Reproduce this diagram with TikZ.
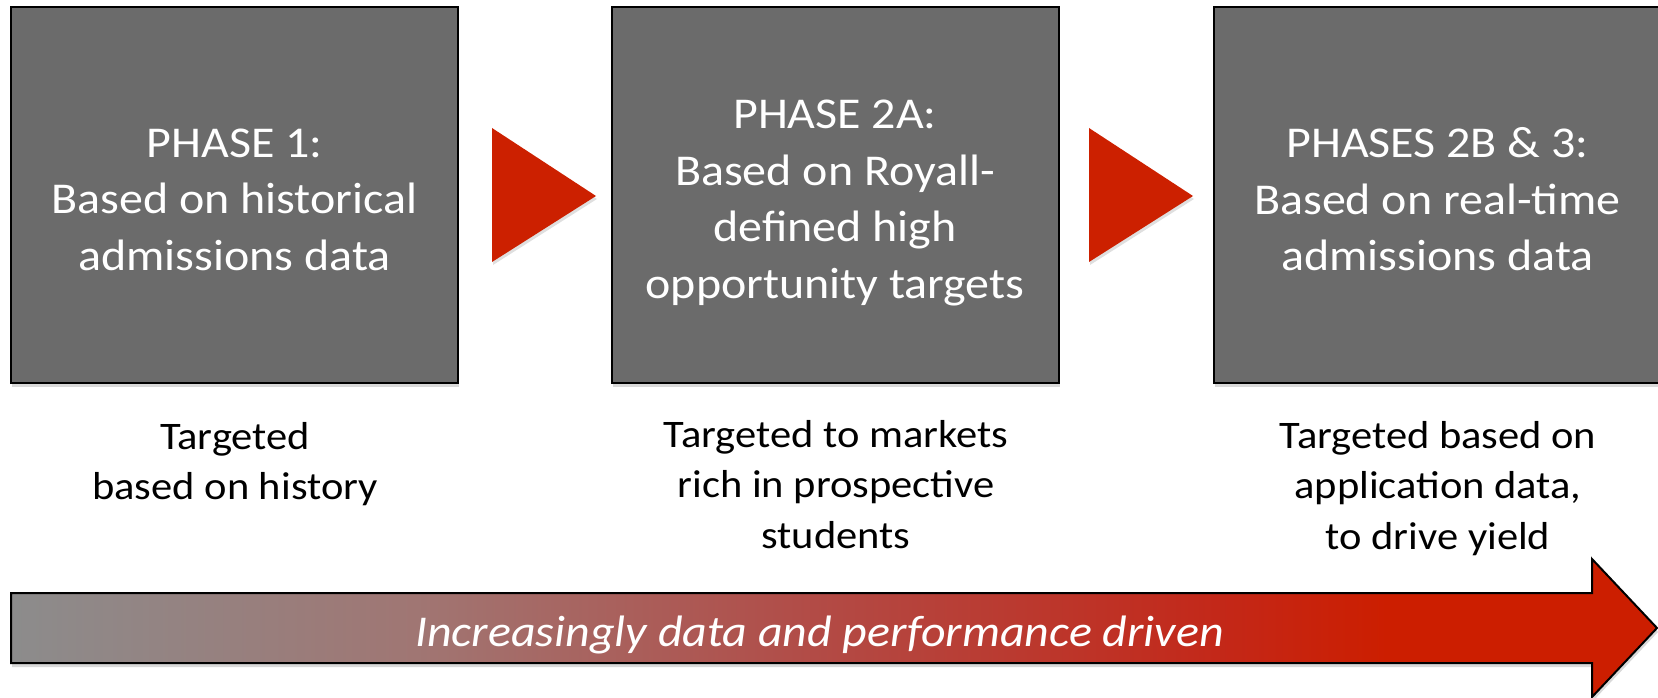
\documentclass[tikz,border=0pt]{standalone}
\usepackage{fontspec}
\setmainfont{Carlito}[FakeStretch=1.09]
\usetikzlibrary{shadows}
\definecolor{boxgray}{RGB}{107,107,107}
\definecolor{phred}{RGB}{204,32,0}
\definecolor{gstart}{RGB}{140,140,140}
\definecolor{gq}{RGB}{160,118,115}
\definecolor{gmid}{RGB}{178,75,70}
\definecolor{gtq}{RGB}{195,40,25}
\definecolor{gend}{RGB}{204,30,0}
\pgfdeclarehorizontalshading{incrgrad}{100bp}{color(0bp)=(gstart); color(25bp)=(gstart); color(37.3bp)=(gq); color(49.4bp)=(gmid); color(61.6bp)=(gtq); color(66.8bp)=(gend); color(100bp)=(gend)}
\tikzset{
  phasebox/.style={draw=black, line width=2pt, fill=boxgray, minimum width=447pt, minimum height=376pt, inner sep=0pt,
    drop shadow={shadow xshift=1pt, shadow yshift=-4pt, opacity=0.3}},
  phasetext/.style={text=white, align=center, inner sep=0pt, font=\fontsize{44}{56.5}\selectfont},
  subtext/.style={text=black, align=center, inner sep=0pt, font=\fontsize{39}{50.5}\selectfont},
  steparrow/.style={fill=phred, drop shadow={shadow xshift=1pt, shadow yshift=-3pt, opacity=0.25}},
  trendarrow/.style={draw=black, line width=2pt, shade, shading=incrgrad,
    drop shadow={shadow xshift=1pt, shadow yshift=-4pt, opacity=0.3}},
  trendtext/.style={text=white, inner sep=0pt, anchor=base, font=\itshape\fontsize{44}{50}\selectfont}
}
\begin{document}
\begin{tikzpicture}[x=1pt,y=-1pt]
\useasboundingbox (0,0) rectangle (1658,698);
\clip (0,0) rectangle (1658,698);
% phase boxes
\node[phasebox] (b1) at (234.5,195) {};
\node[phasebox] (b2) at (835,195) {};
\node[phasebox] (b3) at (1437.5,195) {};
\node[phasetext] (t1) at (234.5,199.5) {PHASE 1:\\Based on historical\\admissions data};
\node[phasetext] (t2) at (835,203) {PHASE 2A:\\Based on Royall-\\defined high\\opportunity targets};
\node[phasetext] (t3) at (1437.5,199.5) {PHASES 2B \& 3:\\Based on real-time\\admissions data};
% step arrows
\fill[steparrow] (492,128) -- (596,196) -- (492,262) -- cycle;
\fill[steparrow] (1089,128) -- (1193,196) -- (1089,262) -- cycle;
% sub texts
\node[subtext] (s1) at (235,464) {Targeted\\based on history};
\node[subtext] (s2) at (836,484.5) {Targeted to markets\\rich in prospective\\students};
\node[subtext] (s3) at (1438,488.5) {Targeted based on\\application data,\\to drive yield};
% trend arrow
\path[trendarrow] (11,593) -- (1592,593) -- (1592,559) -- (1657,628) -- (1592,697) -- (1592,663) -- (11,663) -- cycle;
\node[trendtext] (tt) at (819.5,646) {Increasingly data and performance driven};
\end{tikzpicture}
\end{document}
